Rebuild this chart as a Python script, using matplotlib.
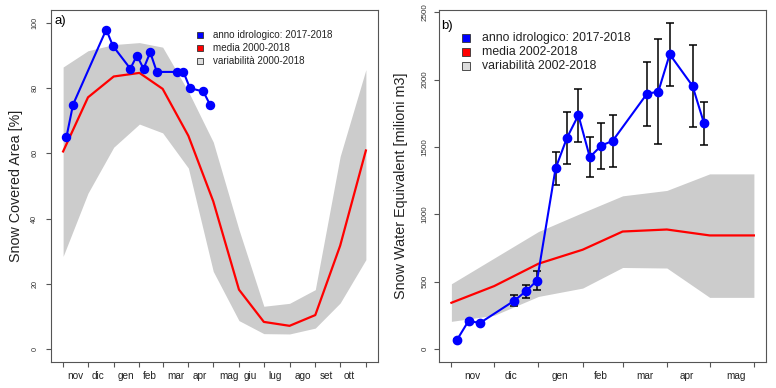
import matplotlib
matplotlib.use('Agg')
import matplotlib.pyplot as plt
import numpy as np

plt.rcParams['font.family'] = ['Liberation Sans', 'DejaVu Sans']

# giorni contati dal 1 novembre
month_edges = [0, 30, 61, 92, 120, 151, 181, 212, 242, 273, 304, 334, 365]
month_names = ['nov', 'dic', 'gen', 'feb', 'mar', 'apr', 'mag', 'giu', 'lug', 'ago', 'set', 'ott']
month_label_days = [15, 42, 76, 104.5, 135.5, 165, 199.5, 225.5, 255, 289, 317, 344.5]

# a) Snow Covered Area
sca_days = [4, 12, 52, 60, 81, 89, 97, 105, 113, 137, 145, 153, 169, 177]
sca_2018 = [65, 75, 98, 93, 86, 90, 86, 91, 85, 85, 85, 80, 79, 75]
sca_mean = [60.6, 77.2, 83.6, 84.7, 79.8, 65.4, 45.3, 18.2, 8.3, 7.1, 10.4, 31.7, 60.9]
sca_max = [86.5, 91.5, 93.4, 94.0, 92.6, 79.0, 63.5, 36.6, 13.1, 14.0, 18.2, 59.1, 85.7]
sca_min = [28.4, 47.8, 61.9, 69.0, 66.3, 55.5, 23.8, 8.7, 4.7, 4.6, 6.4, 14.1, 27.4]

# b) Snow Water Equivalent (nov-mag)
swe_edges = month_edges[:8]
swe_names = month_names[:7]
swe_label_days = month_label_days[:7]
swe_days = [4, 12, 20, 44, 52, 60, 73, 81, 89, 97, 105, 113, 137, 145, 153, 169, 177]
swe_2018 = [69, 208, 193, 358, 427, 507, 1340, 1568, 1736, 1424, 1510, 1545, 1894, 1911, 2188, 1953, 1677]
swe_err = [8, 10, 10, 40, 45, 70, 123, 195, 197, 148, 171, 193, 240, 388, 232, 307, 160]
swe_mean = [343, 467, 633, 737, 872, 887, 843, 843]
swe_max = [484, 675, 872, 1013, 1137, 1177, 1300, 1300]
swe_min = [205, 250, 390, 452, 605, 601, 383, 383]

BLUE = '#0000FF'
RED = '#FF0000'
GREY = '#CCCCCC'
FRAME = '#555555'

W, H = 776, 388
fig = plt.figure(figsize=(W / 100, H / 100), dpi=100)
ax1 = fig.add_axes([51 / W, 26 / H, 327 / W, 352 / H])
ax2 = fig.add_axes([439.3 / W, 26 / H, 326.7 / W, 352 / H])


def r_style(ax, edges, names, label_days, yticks, ysize, ypad):
    for s in ax.spines.values():
        s.set_color(FRAME)
        s.set_linewidth(0.8)
    ax.set_xticks(edges)
    ax.set_xticklabels([])
    ax.set_xticks(label_days, minor=True)
    ax.set_xticklabels(names, minor=True, fontsize=7.2, color='#222222')
    ax.tick_params(axis='x', which='major', length=3.6, width=0.8, color=FRAME, direction='out')
    ax.tick_params(axis='x', which='minor', length=0, pad=6.8)
    ax.set_yticks(yticks)
    ax.set_yticklabels([str(v) for v in yticks], rotation=90, va='center',
                       fontsize=ysize, color='#333333')
    ax.tick_params(axis='y', length=3.6, width=0.8, color=FRAME, pad=ypad)
    pad = (edges[-1] - edges[0]) * 0.04
    ax.set_xlim(edges[0] - pad, edges[-1] + pad)


def legend(ax, x_box, x_txt, ys, labels, size, ms):
    colors = [BLUE, RED, '#DDDDDD']
    for y, lab, c in zip(ys, labels, colors):
        ax.plot([x_box], [y], marker='s', ms=ms, mfc=c, mec='#333333', mew=0.6,
                transform=ax.transAxes, clip_on=False)
        ax.text(x_txt, y, lab, transform=ax.transAxes, va='center', ha='left',
                fontsize=size, color='#222222')


# pannello a)
ax1.fill_between(month_edges, sca_min, sca_max, color=GREY, lw=0)
ax1.plot(month_edges, sca_mean, color=RED, lw=1.6)
ax1.plot(sca_days, sca_2018, color=BLUE, lw=1.5, marker='o', ms=5.8)
r_style(ax1, month_edges, month_names, month_label_days, [0, 20, 40, 60, 80, 100], 5.2, 5.5)
ax1.set_ylim(-4, 104)
ax1.set_ylabel('Snow Covered Area [%]', fontsize=10.3, color='#222222')
ax1.yaxis.set_label_coords(-0.086, 0.5)
ax1.text(0.012, 0.968, 'a)', transform=ax1.transAxes, fontsize=9.5, va='center', ha='left')
legend(ax1, 0.455, 0.496, [0.929, 0.892, 0.855],
       ['anno idrologico: 2017-2018', 'media 2000-2018', 'variabilità 2000-2018'], 7.1, 4.5)

# pannello b)
ax2.fill_between(swe_edges, swe_min, swe_max, color=GREY, lw=0)
ax2.plot(swe_edges, swe_mean, color=RED, lw=1.6)
ax2.errorbar(swe_days, swe_2018, yerr=swe_err, fmt='none', ecolor='black',
             elinewidth=1.1, capsize=2.6, capthick=1.1, zorder=3)
ax2.plot(swe_days, swe_2018, color=BLUE, lw=1.5, marker='o', ms=6, zorder=4)
r_style(ax2, swe_edges, swe_names, swe_label_days, [0, 500, 1000, 1500, 2000, 2500], 5.8, 4.2)
ax2.set_ylim(-96.8, 2516.8)
ax2.set_ylabel('Snow Water Equivalent [milioni m3]', fontsize=10.4, color='#222222')
ax2.yaxis.set_label_coords(-0.096, 0.5)
ax2.text(0.006, 0.955, 'b)', transform=ax2.transAxes, fontsize=9.5, va='center', ha='left')
legend(ax2, 0.0817, 0.13, [0.92, 0.882, 0.84],
       ['anno idrologico: 2017-2018', 'media 2002-2018', 'variabilità 2002-2018'], 8.8, 5.2)

fig.savefig('out.png', dpi=100)
